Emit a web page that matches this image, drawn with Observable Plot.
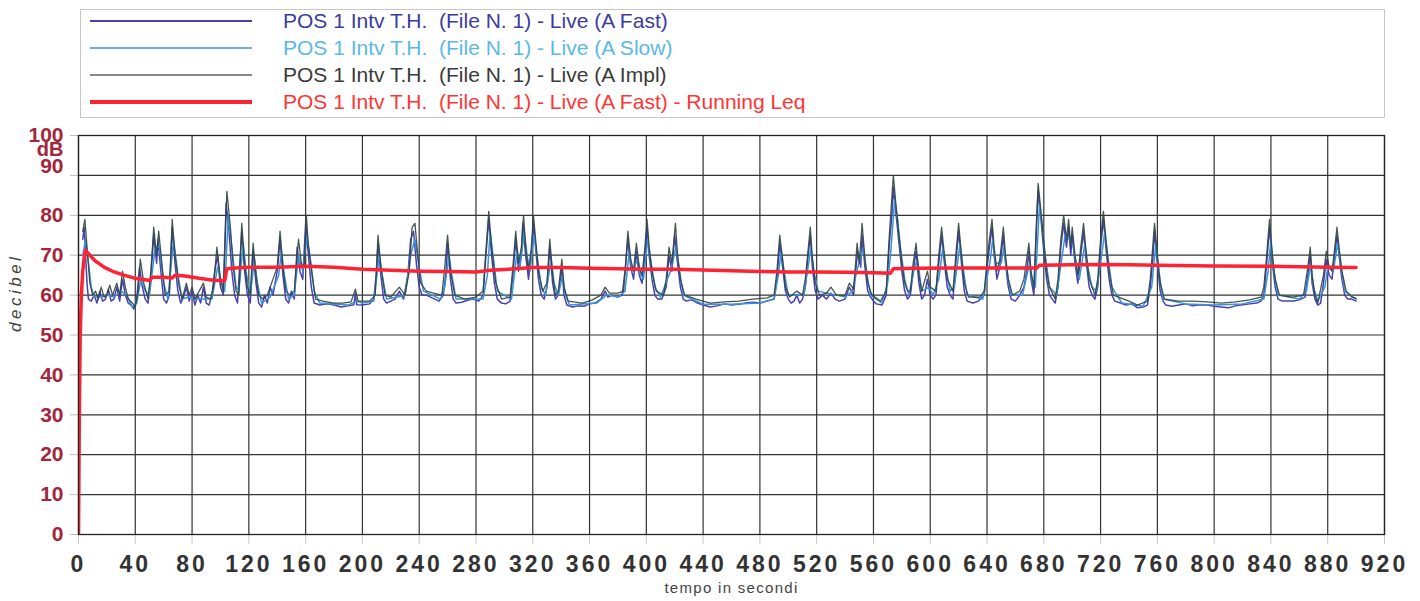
<!DOCTYPE html>
<html>
<head>
<meta charset="utf-8">
<script src="https://cdn.jsdelivr.net/npm/d3@7"></script>
<script src="https://cdn.jsdelivr.net/npm/@observablehq/plot@0.6"></script>
<style>
  html, body { margin: 0; padding: 0; background: #fff; }
  body { width: 1420px; height: 601px; overflow: hidden; font-family: "Liberation Sans", Arial, sans-serif; }
  #legend { position: relative; width: 1420px; height: 120px; }
  #legend .box { position: absolute; left: 80px; top: 9px; width: 1305px; height: 109px; border: 1px solid #c8c8c8; box-sizing: border-box; }
  #legend .row { position: absolute; left: 0; height: 24px; width: 1420px; }
  #legend .row svg { position: absolute; left: 90px; top: 0; }
  #legend .row span { position: absolute; left: 283px; white-space: pre; font-size: 21px; top: 0; line-height: 24px; }
  #chart svg { display: block; }
</style>
</head>
<body>
<div id="legend"><div class="box"></div></div>
<div id="chart"></div>
<script>
// ---- data (time in s, level in dB) ----
const seriesNames = [
  "POS 1 Intv T.H.  (File N. 1) - Live (A Fast)",
  "POS 1 Intv T.H.  (File N. 1) - Live (A Slow)",
  "POS 1 Intv T.H.  (File N. 1) - Live (A Impl)",
  "POS 1 Intv T.H.  (File N. 1) - Live (A Fast) - Running Leq"
];
const xTicks = [0,40,80,120,160,200,240,280,320,360,400,440,480,520,560,600,640,680,720,760,800,840,880,920];
const yTicks = [0,10,20,30,40,50,60,70,80,90,100];
const yUnit = "dB";
const yTitle = "decibel";
const xTitle = "tempo in secondi";

const fastData = [[3,74],[4,77],[5,70],[6,63],[7,59],[9,58.5],[11,60],[13,58],[15,61],[17,58.5],[19,59],[21,61.5],[23,58.5],[25,59],[27,62],[29,58.5],[31,64],[33,60],[35,58],[37,57.5],[39,56.5],[41,59],[43,67],[45,62],[47,59],[49,58],[51,65],[53,75],[55,68],[56,74],[58,66],[60,59],[62,58],[64,60],[66,77],[68,68],[70,61],[72,58],[74,59.5],[76,62],[78,58.5],[80,61],[82,57.5],[84,60],[86,58],[88,62],[90,58],[92,57.5],[94,60],[96,66],[98,70],[100,62],[102,60],[104,83],[106,76],[108,66],[110,60],[112,58],[114,70],[115,76],[117,66],[119,60],[121,58],[123,71],[125,63],[127,58],[129,57],[131,60],[133,58],[135,62],[137,60],[140,66],[142,74],[144,65],[146,59],[148,58],[150,61],[152,59],[154,72],[156,66],[158,64],[160,78],[162,70],[164,62],[166,58],[170,57.5],[175,57.8],[180,57.5],[185,57],[190,57.3],[194,57.6],[195,60.5],[196,57.6],[200,57.5],[205,57.8],[208,59],[210,66],[211,73],[213,65],[215,59],[217,58],[220,58.5],[223,59],[226,61],[229,59],[232,65],[234,74],[236,76],[238,68],[240,62],[242,60],[245,60],[248,59.5],[251,59],[254,58.5],[257,60],[259,66],[260,73],[262,64],[264,59],[266,58],[270,58.2],[274,58.7],[278,59],[282,58.5],[285,60],[287,70],[289,79],[291,70],[293,63],[295,59],[298,58],[301,57.8],[304,58.5],[306,65],[308,74],[310,66],[312,70],[313,78],[315,70],[317,64],[319,70],[320.5,78],[322,72],[324,64],[326,60],[328,59],[330,62],[332,72],[334,63],[336,59],[338,60],[340.5,67],[342,60],[344,57.5],[348,57],[352,57.3],[356,57.2],[360,57.8],[364,58],[368,59],[371,61],[373,59.5],[376,60],[380,59.5],[383,60],[385,66],[387,74],[389,67],[391,64],[393,71],[395,65],[397,63],[399,70],[400.5,77],[402,70],[404,64],[406,60],[408,59],[411,59],[414,62],[416,70],[418,66],[420,75],[422,68],[424,62],[426,59],[428,58.5],[432,58.8],[436,58],[440,57.5],[445,57],[450,57.3],[455,57.8],[460,57.5],[465,57.7],[470,58],[475,58.2],[480,58],[485,58.5],[490,59],[492,64],[494,73],[496,67],[498,61],[500,59],[502,58],[504,58.5],[506,60],[508,58],[510,59],[512,62],[514,70],[515.5,75],[517,67],[519,61],[521,59],[524,60],[527,59],[530,60.5],[533,59],[536,58.5],[540,59],[543,62],[546,60],[548,68],[549,71],[551,67],[552,75],[554,67],[556,61],[558,59.5],[560,58.5],[562,57.8],[566,57.5],[569,60],[571,72],[573,80],[574,87],[576,80],[578,73],[580,66],[582,61],[584,59],[586,60],[588,66],[590,71],[592,63],[594,59],[596,60],[598,64],[600,60],[602,59],[604,60],[606,68],[608,75],[610,68],[612,62],[614,60],[616,59],[618,68],[620,76],[622,68],[624,61],[626,58.5],[630,58],[634,58.5],[638,60],[641,70],[643.5,77],[645,70],[647,64],[649,67],[651.5,75],[653,68],[655,62],[657,59],[660,58.5],[663,60],[666,62],[668,66],[669.5,71],[671,64],[673,60],[675,78],[676,86],[678,79],[680,71],[682,64],[684,60],[686,59],[688,58],[690,62],[692,72],[694,78],[696,72],[697.5,77],[699,70],[700,75],[702,68],[704,63],[706,70],[708,76],[710,68],[712,62],[714,60],[716,59],[718,62],[720,72],[722,79],[724,71],[726,64],[728,60],[730,58.5],[734,58],[738,57.5],[742,57.8],[746,56.8],[750,57],[753,57.5],[755,62],[757,70],[758,76],[760,68],[762,61],[764,58.5],[766,57.5],[770,57.2],[775,57.5],[780,57.8],[785,57.3],[790,57.6],[795,57.5],[800,57.2],[805,57],[810,56.8],[815,57.3],[820,57.6],[825,57.8],[830,58],[833,58.5],[835,60],[837,68],[839,77],[841,68],[843,62],[845,59],[848,58.5],[852,58.5],[856,58.5],[860,58.8],[864,59.5],[866,65],[867.7,70],[869,63],[871,59],[873,57.5],[875,58],[877,63],[879,69],[881,65],[883,64],[885,70],[886.5,75],[888,70],[890,64],[892,60],[894,59],[897,59],[900,58.5]];

const slowData = [[3,70],[5,74],[7,68],[9,62],[11,59.5],[15,59.5],[20,60],[25,59.5],[30,61],[34,60],[38,57],[41,58],[44,64],[47,61],[50,60],[54,72],[57,72],[60,63],[63,59],[67,74],[70,65],[73,59],[78,59.5],[85,59],[90,59],[94,59],[98,67],[101,63],[103,61],[105.5,80],[108,72],[111,62],[113,61],[116,73],[118,66],[121,60],[124,69],[126,63],[129,58],[135,59.5],[141,65],[143,71],[145,65],[148,59],[152,60],[155,70],[158,66],[161,75],[163,70],[166,61],[170,58],[190,57.5],[196,58.5],[200,58],[208,58.5],[212,70],[214,65],[217,59],[225,59.5],[230,60],[234,70],[237,74],[240,67],[243,61],[255,59],[258,62],[261,70],[263,65],[266,59],[285,59],[288,65],[290,76],[292,70],[295,61],[305,59],[309,71],[311,67],[314,76],[316,70],[318,66],[321,75],[323,70],[326,62],[329,60],[333,69],[335,63],[338,60],[341,65],[343,60],[346,57.5],[365,58],[372,60],[380,59.5],[385,61],[388,71],[390,66],[394,69],[396,65],[398,64],[401,74],[403,69],[406,62],[410,59.5],[417,66],[421,72],[423,67],[426,60],[440,57.7],[460,57.7],[480,58],[490,59],[493,65],[495,71],[497,66],[500,60],[511,60],[516,72],[518,66],[521,61],[540,59.5],[545,61],[549,67],[553,72],[555,66],[558,60],[566,58],[570,63],[572,70],[575,84],[577,79],[579,72],[582,64],[585,60],[589,67],[591,69],[594,61],[599,62],[602,60],[606,64],[609,72],[611,67],[614,61],[617,62],[621,73],[623,67],[626,60],[637,59],[642,68],[644,74],[646,68],[650,68],[652,72],[654,66],[657,60],[665,60],[670,68],[672,63],[674,62],[677,83],[679,77],[681,70],[684,62],[689,60],[693,70],[695,75],[698,74],[701,72],[703,67],[705,64],[709,73],[711,67],[714,62],[717,61],[720,68],[723,76],[725,70],[728,62],[735,58],[750,57.2],[756,62],[759,73],[761,66],[764,59],[780,57.8],[800,57.5],[820,57.8],[835,59],[838,66],[840,74],[842,66],[845,60],[860,59],[865,61],[868,68],[870,62],[873,58.5],[878,62],[880,67],[884,66],[887,73],[889,68],[892,61],[900,59]];

const implData = [[3,76],[4.5,79],[6,72],[8,63],[10,60],[12,61],[14,59],[16,62],[18,59.5],[20,60],[22,62.5],[24,60],[27,63],[29,60],[31,66],[33,62],[35,59],[38,58],[40,57],[42,61],[43.5,69],[46,63],[49,59],[51,66],[53,77],[55,70],[56.5,76],[59,67],[61,60],[64,61],[66,79],[68,70],[71,62],[73,59],[76,63],[78,60],[80,62],[82,59],[85,61],[88,63],[90,59.5],[93,59],[95,62],[97.5,72],[100,64],[102,61],[104.5,86],[107,77],[109,67],[111,61],[113,60],[115,78],[117,68],[119,62],[121,60],[123,73],[125,65],[127,60],[130,59],[133,60],[136,63],[140,67],[142,76],[144,67],[146,61],[149,60],[152,61],[155,74],[157,68],[159,67],[160.5,80],[162,72],[165,64],[167,59],[172,58.5],[180,58],[186,58],[192,58.3],[195,61.5],[197,58.5],[205,58.5],[209,60],[211,75],[213,67],[216,60],[220,59.5],[226,62],[230,60],[233,66],[235,77],[237,78],[239,70],[241,63],[245,61],[250,60.5],[256,60],[258,67],[260,75],[262,66],[265,60],[272,59],[280,59.5],[285,61],[289,81],[291,72],[294,63],[298,59],[304,59.5],[306,67],[308,76],[310,68],[312,72],[313.5,80],[315,72],[317,66],[319,72],[320.5,80],[322,74],[324,66],[327,61],[330,63],[332,74],[334,65],[336,60],[338,61],[340.5,69],[342,62],[345,58.5],[355,58],[362,58.8],[368,60],[371,62],[374,60.5],[380,60.5],[384,61],[385.5,68],[387,76],[389,69],[391,66],[393,73],[395,67],[397,65],[399,72],[400.5,79],[402,72],[404,66],[407,61],[412,60],[414,64],[416,72],[418,68],[420.5,78],[422,70],[424,64],[427,60],[435,59],[445,58],[455,58.3],[465,58.5],[475,59],[485,59.3],[490,60],[492,66],[494,75],[496,69],[498,62],[501,59.5],[506,61],[510,60],[512,64],[515.5,77],[517,69],[519,63],[522,60],[527,60.5],[530,62],[534,60],[540,60],[543,63],[546,61.5],[548.5,73],[550,68],[552,78],[554,69],[556,63],[559,60],[565,58.5],[569,61],[571,74],[574,90],[576,82],[578,75],[580,68],[582,63],[584,61],[586,61],[588,68],[590,73],[592,65],[594,61],[598,66],[600,62],[604,61],[606,70],[608,77],[610,70],[612,64],[616,61],[618,70],[620,78],[622,70],[624,63],[627,59.5],[635,59.5],[638,61],[641,72],[643.5,79],[645,72],[647,66],[649,69],[651.5,77],[653,70],[655,64],[658,60],[663,61],[666,64],[669.5,73],[671,66],[673,62],[675,80],[676,88],[678,81],[680,73],[682,66],[684,62],[688,59],[690,64],[692,74],[694,80],[696,74],[697.5,79],[699,72],[700,77],[702,70],[704,65],[706,72],[708,78],[710,70],[712,64],[716,60],[718,64],[720,74],[722,81],[724,73],[726,66],[729,60],[740,58.5],[746,57.5],[753,58.5],[755,64],[758,78],[760,70],[762,63],[765,59],[775,58.5],[785,58.5],[795,58.3],[805,58],[815,58.3],[825,58.8],[833,59.5],[835,62],[837,70],[839,79],[841,70],[843,64],[846,60],[855,59.5],[863,60],[866,67],[867.7,72],[869,65],[871,60],[873,58],[877,65],[879,71],[881,67],[883,66],[885,72],[886.5,77],[888,72],[890,66],[893,61],[897,59.5],[900,59.2]];

const leqData = [[0,0],[0.6,30],[1.2,50],[2,60],[3,66],[4,69.5],[5,71.2],[8,70],[12,68.5],[18,67],[25,65.8],[32,65],[40,64.2],[48,63.8],[50,63.6],[52,64.5],[60,64.5],[66,64.3],[68,65],[75,64.8],[85,64.2],[95,63.7],[103,63.6],[104.5,66.6],[110,66.8],[120,67],[140,67],[160,67.2],[180,67],[200,66.5],[220,66.2],[240,66],[260,65.9],[280,65.8],[290,66.2],[300,66.4],[320,66.9],[340,66.9],[360,66.7],[380,66.6],[400,66.5],[420,66.5],[440,66.3],[460,66.1],[480,65.9],[500,65.8],[520,65.8],[540,65.7],[560,65.6],[572,65.5],[574,66.6],[590,66.7],[620,66.8],[660,66.8],[675,66.8],[677,67.5],[700,67.6],[720,67.7],[740,67.6],[760,67.5],[800,67.3],[840,67.2],[860,67.1],[880,67],[900,66.9]];

const colors = ["#4a40b4", "#3a93d8", "#2e463c", "#ff2233"];
const textColors = ["#3c3ca0", "#5ab8ea", "#3a3a3a", "#ff3535"];
const legendWidths = [2.2, 1.6, 1.2, 4];

// ---- legend ----
const legend = document.getElementById("legend");
seriesNames.forEach((name, i) => {
  const row = document.createElement("div");
  row.className = "row";
  row.style.top = (9 + i * 27) + "px";
  row.innerHTML = `<svg width="165" height="24"><line x1="0" x2="162" y1="12" y2="12" stroke="${i === 2 ? '#111' : colors[i]}" stroke-width="${legendWidths[i]}"/></svg><span style="color:${textColors[i]}">${name}</span>`;
  legend.appendChild(row);
});

// ---- chart ----
const font = "'Liberation Sans', Arial, sans-serif";
const yColor = "#a3263c";
const yLabelOpts = { tickSize: 0, tickPadding: 15, fill: yColor, fontSize: 21, fontWeight: "bold", label: null };
const chart = Plot.plot({
  width: 1420,
  height: 481,
  marginTop: 15,
  marginBottom: 67,
  marginLeft: 78,
  marginRight: 36,
  style: { fontFamily: font, background: "#fff" },
  x: { domain: [0, 920], ticks: xTicks },
  y: { domain: [0, 100], ticks: yTicks },
  marks: [
    Plot.gridX(xTicks, { stroke: "#333", strokeOpacity: 1, strokeWidth: 1.2 }),
    Plot.gridY(yTicks, { stroke: "#333", strokeOpacity: 1, strokeWidth: 1.2 }),
    Plot.axisX(xTicks, { tickSize: 10, tickPadding: 11, stroke: "#c8c8c8", fill: "#333", fontSize: 23, fontWeight: "bold", label: null }),
    Plot.axisY(yTicks, { tickSize: 8, stroke: "#bbb", tickFormat: () => "", label: null }),
    Plot.axisY(yTicks.filter(v => v !== 90), yLabelOpts),
    Plot.axisY(yTicks.filter(v => v === 90), { ...yLabelOpts, dy: -9 }),
    Plot.text([yUnit], { frameAnchor: "top-left", lineAnchor: "middle", dx: -15, dy: 14, textAnchor: "end", fill: yColor, fontSize: 20, fontWeight: "bold" }),
    Plot.text([yTitle], { frameAnchor: "left", dx: -63, dy: -3, rotate: -90, fill: "#444", fontSize: 17, fontStyle: "italic" }),
    Plot.text([xTitle], { frameAnchor: "bottom", dy: 58, fill: "#444", fontSize: 15 }),
    Plot.line(fastData, { x: d => d[0], y: d => d[1], stroke: colors[0], strokeWidth: 1.5, clip: true }),
    Plot.line(slowData, { x: d => d[0], y: d => d[1], stroke: colors[1], strokeWidth: 1.5, clip: true }),
    Plot.line(implData, { x: d => d[0], y: d => d[1], stroke: colors[2], strokeWidth: 1.3, strokeOpacity: 0.9, clip: true }),
    Plot.line(leqData, { x: d => d[0], y: d => d[1], stroke: colors[3], strokeWidth: 3.5, clip: true }),
    Plot.frame({ stroke: "#222", strokeWidth: 1.3 })
  ]
});
document.getElementById("chart").appendChild(chart);
// letter spacing for the wide-set labels of the original
d3.select(chart).selectAll('g[aria-label="x-axis tick label"] text').style("letter-spacing", "3px");
d3.select(chart).selectAll('g[aria-label="text"] text').each(function() {
  const t = this.textContent;
  if (t === yTitle) d3.select(this).style("letter-spacing", "3.5px");
  if (t === xTitle) d3.select(this).style("letter-spacing", "1.3px");
});
</script>
</body>
</html>
